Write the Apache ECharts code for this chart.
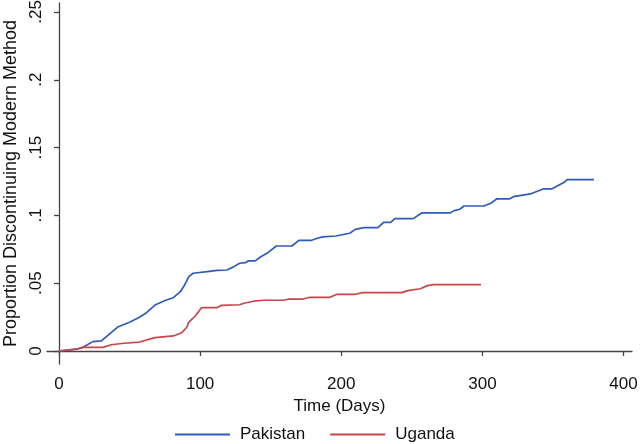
<!DOCTYPE html>
<html>
<head>
<meta charset="utf-8">
<script src="https://cdn.jsdelivr.net/npm/echarts@6/dist/echarts.min.js"></script>
<style>
html,body{margin:0;padding:0;background:#fff;}
#chart{width:640px;height:444px;}
</style>
</head>
<body>
<div id="chart"></div>
<script>
const seriesNames = ['Pakistan', 'Uganda'];
const pakistanDays = [0, 12, 17, 24, 30, 34, 42, 50, 57, 62, 68, 76, 81, 86, 89, 92, 95, 105, 112, 119, 124, 128, 132, 134, 139, 143, 148, 154, 165, 170, 179, 183, 187, 196, 206, 210, 216, 226, 230, 235, 238, 251, 257, 277, 280, 284, 287, 301, 306, 310, 319, 322, 334, 343, 349, 358, 360, 379];
const pakistanProp = [0, 0.0013, 0.0027, 0.0069, 0.0074, 0.011, 0.0179, 0.0212, 0.0249, 0.0282, 0.0339, 0.0376, 0.0393, 0.0437, 0.0487, 0.0548, 0.0573, 0.0585, 0.0595, 0.0597, 0.0622, 0.0647, 0.0651, 0.0664, 0.0664, 0.0695, 0.0725, 0.0774, 0.0774, 0.0816, 0.0816, 0.0831, 0.0841, 0.0848, 0.0868, 0.0897, 0.0909, 0.0909, 0.0949, 0.0949, 0.0976, 0.0976, 0.1018, 0.1018, 0.1035, 0.1045, 0.1069, 0.1069, 0.1089, 0.1121, 0.1121, 0.1138, 0.1158, 0.1195, 0.1195, 0.1244, 0.1263, 0.1263];
const ugandaDays = [0, 12.5, 17, 31, 37, 46, 57, 68, 81, 87, 90.6, 91.7, 96.5, 101, 112, 115, 128, 131, 138, 145, 159, 163, 173, 178, 192, 197, 210, 215, 243, 247, 256, 261, 265.5, 299];
const ugandaProp = [0, 0.0013, 0.0027, 0.0027, 0.0046, 0.0057, 0.0066, 0.0098, 0.0111, 0.0135, 0.0175, 0.0209, 0.0258, 0.0319, 0.0319, 0.0337, 0.0341, 0.0352, 0.0367, 0.0374, 0.0374, 0.0383, 0.0383, 0.0396, 0.0396, 0.0418, 0.0418, 0.043, 0.043, 0.0445, 0.0459, 0.0482, 0.0489, 0.0489];
const xTicks = [0, 100, 200, 300, 400];
const yTicks = [0, 0.05, 0.1, 0.15, 0.2, 0.25];
const yTickLabels = ['0', '.05', '.1', '.15', '.2', '.25'];
const xTitle = 'Time (Days)';
const yTitle = 'Proportion Discontinuing Modern Method';

const zip = (a, b) => a.map((v, i) => [v, b[i]]);
const font = 'Liberation Sans, Arial, Helvetica, sans-serif';
const axisColor = '#444';
const colors = ['#2f5cb8', '#c6474b'];

const chart = echarts.init(document.getElementById('chart'), null, {renderer: 'canvas'});
chart.setOption({
  animation: false,
  backgroundColor: '#fff',
  color: colors,
  grid: {left: 47, right: 8, top: 3, bottom: 80, containLabel: false, outerBoundsMode: 'none'},
  legend: {
    left: 170, top: 421,
    itemWidth: 55, itemHeight: 2, itemGap: 25,
    icon: 'rect',
    data: seriesNames,
    textStyle: {fontFamily: font, fontSize: 17, color: '#111', padding: [0, 0, 0, 5]}
  },
  xAxis: {
    type: 'value', min: -8.5, max: 406,
    name: xTitle, nameLocation: 'middle', nameGap: 22,
    nameTextStyle: {fontFamily: font, fontSize: 17, color: '#111'},
    axisLine: {show: true, lineStyle: {color: axisColor, width: 1.3}},
    axisTick: {show: true, length: 5, customValues: xTicks, lineStyle: {color: axisColor, width: 1.3}},
    axisLabel: {customValues: xTicks, margin: 12, fontFamily: font, fontSize: 17, color: '#111'},
    splitLine: {show: false}
  },
  yAxis: {
    type: 'value', min: -0.0096, max: 0.2566,
    name: yTitle, nameLocation: 'middle', nameGap: 27,
    nameTextStyle: {fontFamily: font, fontSize: 18, color: '#111'},
    axisLine: {show: true, lineStyle: {color: axisColor, width: 1.3}},
    axisTick: {show: true, length: 5, customValues: yTicks, lineStyle: {color: axisColor, width: 1.3}},
    axisLabel: {
      customValues: yTicks, rotate: 90, margin: 2, fontFamily: font, fontSize: 17, color: '#111',
      formatter: v => { const i = yTicks.findIndex(t => Math.abs(t - v) < 1e-9); return i >= 0 ? yTickLabels[i] : ''; }
    },
    splitLine: {show: false}
  },
  series: [
    {name: seriesNames[0], type: 'line', showSymbol: false, symbol: 'none', data: zip(pakistanDays, pakistanProp), lineStyle: {width: 1.7, color: colors[0]}},
    {name: seriesNames[1], type: 'line', showSymbol: false, symbol: 'none', data: zip(ugandaDays, ugandaProp), lineStyle: {width: 1.7, color: colors[1]}}
  ]
});
</script>
</body>
</html>
